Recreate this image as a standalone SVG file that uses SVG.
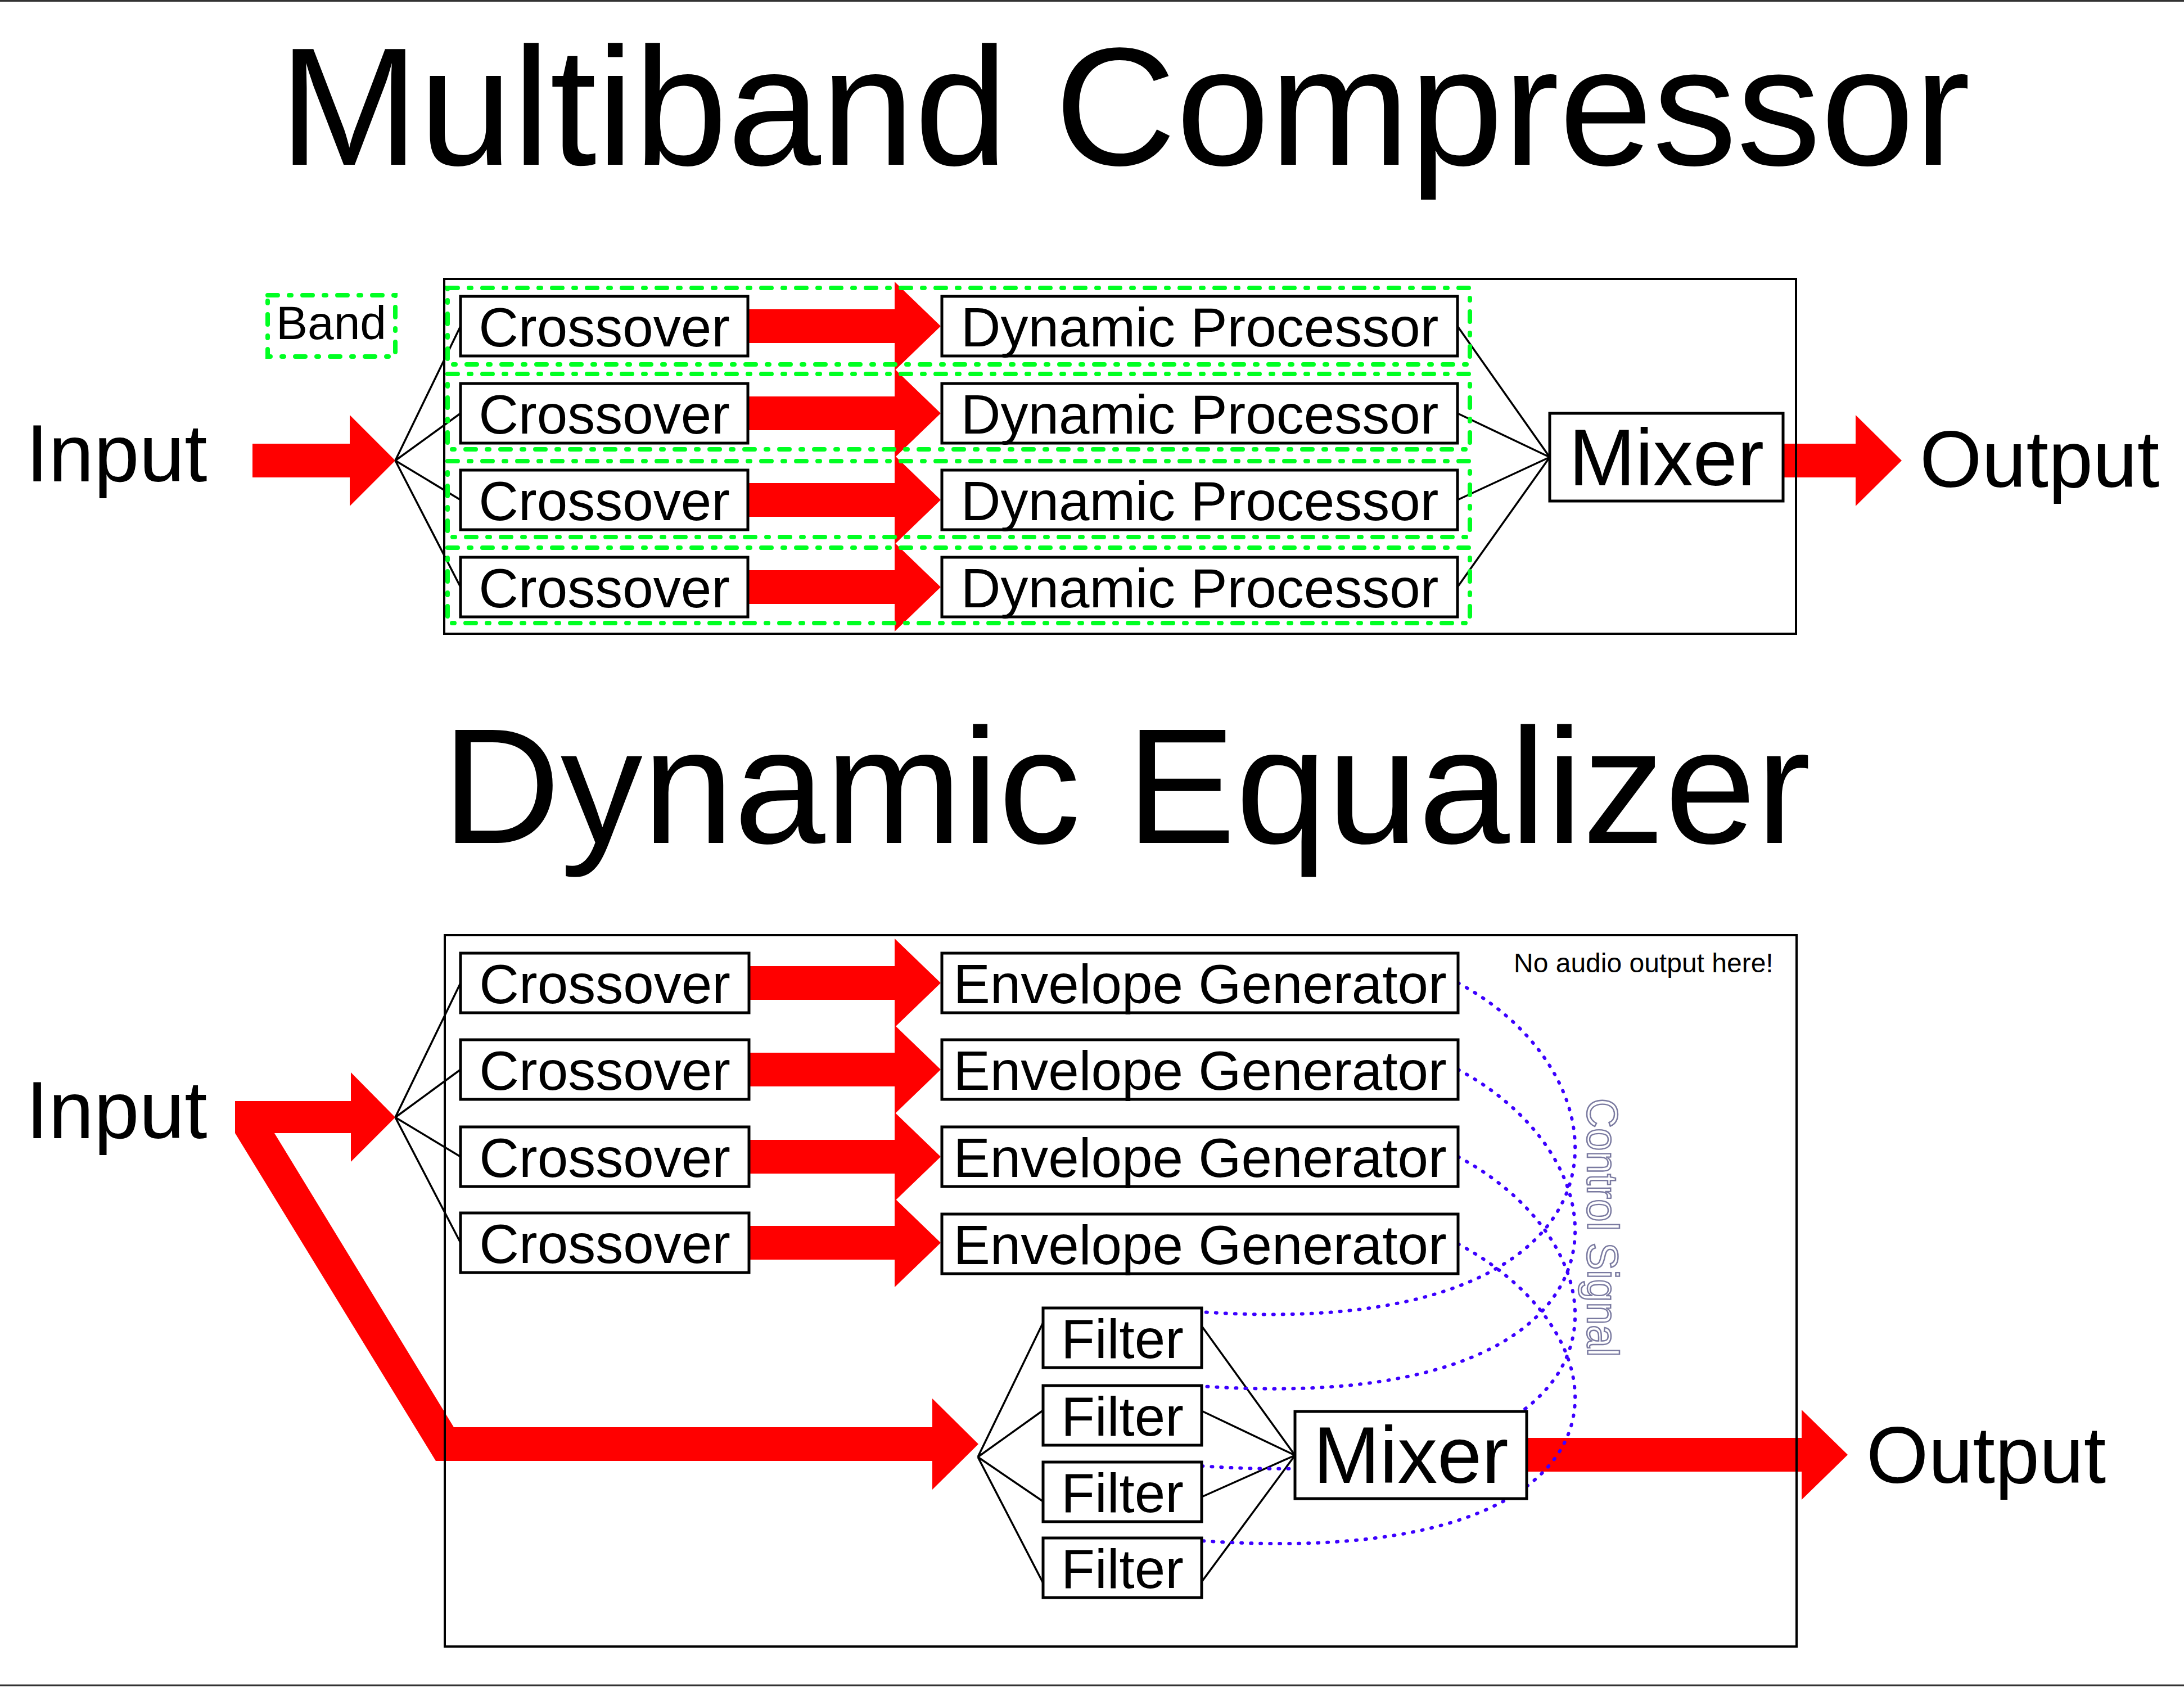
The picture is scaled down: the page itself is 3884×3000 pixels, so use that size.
<svg xmlns="http://www.w3.org/2000/svg" width="3884" height="3000" viewBox="0 0 3884 3000">
<style>
text{font-family:"Liberation Sans",Arial,Helvetica,sans-serif;fill:#000}
.box{fill:#fff;stroke:#000;stroke-width:5}
.frame{fill:none;stroke:#000;stroke-width:4}
.lbl{font-size:98px;text-anchor:middle}
.big{font-size:142px}
.title{text-anchor:middle}
.wire{fill:none;stroke:#000;stroke-width:3.5}
.red{fill:#ff0000}
.band{fill:none;stroke:#00ff22;stroke-width:8;stroke-dasharray:18 20 4 20;stroke-linecap:round}
.ctrl{fill:none;stroke:#3c00ff;stroke-width:6;stroke-dasharray:2 15;stroke-linecap:round}
.rule{stroke:#333;stroke-width:3}
</style>
<rect x="0" y="0" width="3884" height="3000" fill="#fff"/>
<line class="rule" x1="0" y1="1.5" x2="3884" y2="1.5"/>
<line class="rule" x1="0" y1="2997" x2="3884" y2="2997"/>

<!-- Titles -->
<text id="title-multiband" class="title" x="2000" y="293" font-size="299">Multiband Compressor</text>
<text id="title-dyneq" class="title" x="2003" y="1499" font-size="292">Dynamic Equalizer</text>

<!-- ========== MULTIBAND COMPRESSOR ========== -->
<g id="mb-connectors">
  <polygon class="red" points="449,789 622,789 622,738 703,819 622,900 622,849 449,849"/>
  <polygon class="red" points="1330,550 1591,550 1591,501 1673,580 1591,659 1591,610 1330,610"/>
  <polygon class="red" points="1330,705 1591,705 1591,656 1673,735 1591,814 1591,765 1330,765"/>
  <polygon class="red" points="1330,859 1591,859 1591,810 1673,889 1591,968 1591,919 1330,919"/>
  <polygon class="red" points="1330,1014 1591,1014 1591,965 1673,1044 1591,1123 1591,1074 1330,1074"/>
  <polygon class="red" points="3171,789 3300,789 3300,738 3382,819 3300,900 3300,849 3171,849"/>
  <path class="wire" d="M703,819 L819,580 M703,819 L819,735 M703,819 L819,889 M703,819 L819,1044"/>
  <path class="wire" d="M2592,580 L2756,813 M2592,735 L2756,813 M2592,889 L2756,813 M2592,1044 L2756,813"/>
</g>

<g id="mb-input"><text x="46" y="856" font-size="145">Input</text></g>
<g id="mb-output"><text class="big" x="3414" y="866">Output</text></g>

<g id="mb-crossover-1"><rect class="box" x="819" y="527" width="511" height="106"/><text class="lbl" x="1074.5" y="616">Crossover</text></g>
<g id="mb-crossover-2"><rect class="box" x="819" y="682" width="511" height="106"/><text class="lbl" x="1074.5" y="771">Crossover</text></g>
<g id="mb-crossover-3"><rect class="box" x="819" y="836" width="511" height="106"/><text class="lbl" x="1074.5" y="925">Crossover</text></g>
<g id="mb-crossover-4"><rect class="box" x="819" y="991" width="511" height="106"/><text class="lbl" x="1074.5" y="1080">Crossover</text></g>

<g id="mb-dp-1"><rect class="box" x="1675" y="527" width="917" height="106"/><text class="lbl" x="2133.5" y="616">Dynamic Processor</text></g>
<g id="mb-dp-2"><rect class="box" x="1675" y="682" width="917" height="106"/><text class="lbl" x="2133.5" y="771">Dynamic Processor</text></g>
<g id="mb-dp-3"><rect class="box" x="1675" y="836" width="917" height="106"/><text class="lbl" x="2133.5" y="925">Dynamic Processor</text></g>
<g id="mb-dp-4"><rect class="box" x="1675" y="991" width="917" height="106"/><text class="lbl" x="2133.5" y="1080">Dynamic Processor</text></g>

<g id="mb-mixer"><rect class="box" x="2756" y="735" width="415" height="156"/><text class="big" x="2963.5" y="863" text-anchor="middle">Mixer</text></g>

<g id="mb-bands">
  <rect class="band" x="796" y="512" width="1818" height="136"/>
  <rect class="band" x="796" y="665" width="1818" height="134"/>
  <rect class="band" x="796" y="820" width="1818" height="135"/>
  <rect class="band" x="796" y="974" width="1818" height="134"/>
</g>

<g id="band-legend">
  <rect class="band" x="476" y="525" width="227" height="109"/>
  <text x="589" y="603" font-size="84" text-anchor="middle">Band</text>
</g>

<rect id="mb-frame" class="frame" x="790" y="496" width="2404" height="631"/>

<!-- ========== DYNAMIC EQUALIZER ========== -->
<g id="eq-connectors">
  <path class="red" d="M418,1958 L624,1958 L624,1907 L703,1987 L624,2066 L624,2015 L488,2015 L807,2538 L1658,2538 L1658,2487 L1740,2568 L1658,2649 L1658,2598 L775,2598 L418,2015 Z"/>
  <polygon class="red" points="1332,1718 1591,1718 1591,1669 1673,1748 1591,1827 1591,1778 1332,1778"/>
  <polygon class="red" points="1332,1872 1591,1872 1591,1823 1673,1902 1591,1981 1591,1932 1332,1932"/>
  <polygon class="red" points="1332,2027 1591,2027 1591,1978 1673,2057 1591,2136 1591,2087 1332,2087"/>
  <polygon class="red" points="1332,2180 1591,2180 1591,2131 1673,2210 1591,2289 1591,2240 1332,2240"/>
  <polygon class="red" points="2715,2557 3204,2557 3204,2507 3286,2587 3204,2667 3204,2617 2715,2617"/>
  <path class="wire" d="M703,1987 L819,1748 M703,1987 L819,1902 M703,1987 L819,2057 M703,1987 L819,2210"/>
  <path class="wire" d="M1739,2591 L1855,2352 M1739,2591 L1855,2508 M1739,2591 L1855,2670 M1739,2591 L1855,2815"/>
  <path class="wire" d="M2137,2358 L2303,2588 M2137,2509 L2303,2588 M2137,2662 L2303,2588 M2137,2813 L2303,2588"/>
  <g id="control-signals">
    <path class="ctrl" d="M2593,1748 C2917,1921 2931,2388 2137,2333"/>
    <path class="ctrl" d="M2593,1902 C2917,2075 2931,2520 2137,2465"/>
    <path class="ctrl" d="M2593,2057 C2917,2230 2931,2662 2137,2607"/>
    <path class="ctrl" d="M2593,2212 C2917,2385 2931,2795 2137,2740"/>
  </g>
</g>

<g id="eq-input"><text x="46" y="2024" font-size="145">Input</text></g>
<g id="eq-output"><text class="big" x="3319" y="2637">Output</text></g>

<g id="eq-crossover-1"><rect class="box" x="819" y="1695" width="513" height="106"/><text class="lbl" x="1075.5" y="1784">Crossover</text></g>
<g id="eq-crossover-2"><rect class="box" x="819" y="1849" width="513" height="106"/><text class="lbl" x="1075.5" y="1938">Crossover</text></g>
<g id="eq-crossover-3"><rect class="box" x="819" y="2004" width="513" height="106"/><text class="lbl" x="1075.5" y="2093">Crossover</text></g>
<g id="eq-crossover-4"><rect class="box" x="819" y="2157" width="513" height="106"/><text class="lbl" x="1075.5" y="2246">Crossover</text></g>

<g id="eq-env-1"><rect class="box" x="1675" y="1695" width="918" height="106"/><text class="lbl" x="2134" y="1784">Envelope Generator</text></g>
<g id="eq-env-2"><rect class="box" x="1675" y="1849" width="918" height="106"/><text class="lbl" x="2134" y="1938">Envelope Generator</text></g>
<g id="eq-env-3"><rect class="box" x="1675" y="2004" width="918" height="106"/><text class="lbl" x="2134" y="2093">Envelope Generator</text></g>
<g id="eq-env-4"><rect class="box" x="1675" y="2159" width="918" height="106"/><text class="lbl" x="2134" y="2248">Envelope Generator</text></g>

<g id="eq-filter-1"><rect class="box" x="1855" y="2326" width="282" height="106"/><text class="lbl" x="1996" y="2415">Filter</text></g>
<g id="eq-filter-2"><rect class="box" x="1855" y="2464" width="282" height="106"/><text class="lbl" x="1996" y="2553">Filter</text></g>
<g id="eq-filter-3"><rect class="box" x="1855" y="2600" width="282" height="106"/><text class="lbl" x="1996" y="2689">Filter</text></g>
<g id="eq-filter-4"><rect class="box" x="1855" y="2735" width="282" height="106"/><text class="lbl" x="1996" y="2824">Filter</text></g>

<g id="eq-mixer"><rect class="box" x="2303" y="2510" width="412" height="155"/><text class="big" x="2509" y="2637" text-anchor="middle">Mixer</text></g>

<g id="eq-note"><text x="2692" y="1729" font-size="48">No audio output here!</text></g>
<g id="eq-control-label"><text transform="translate(2823,1953) rotate(90)" x="0" y="0" font-size="78" textLength="460" lengthAdjust="spacingAndGlyphs" style="fill:none;stroke:#7a7aa0;stroke-width:2.5">Control Signal</text></g>

<rect id="eq-frame" class="frame" x="791" y="1663" width="2404" height="1265"/>
</svg>
